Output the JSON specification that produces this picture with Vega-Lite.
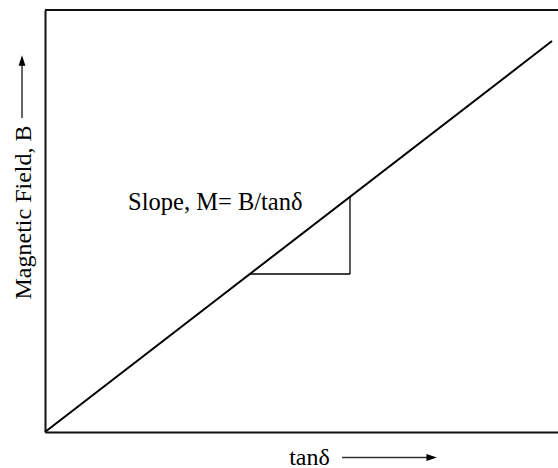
{
  "$schema": "https://vega.github.io/schema/vega-lite/v6.json",
  "autosize": "none",
  "padding": {"left": 45, "top": 10, "right": 0, "bottom": 36},
  "width": 513,
  "height": 422,
  "background": "white",
  "config": {
    "view": {"stroke": null},
    "font": "Liberation Serif",
    "axis": {
      "domain": true,
      "domainColor": "#111111",
      "domainWidth": 2,
      "ticks": false,
      "labels": false,
      "grid": false,
      "titleFont": "Liberation Serif",
      "titleFontSize": 24,
      "titleFontWeight": "normal",
      "titleColor": "#000000"
    }
  },
  "datasets": {
    "fit": [
      {"tan": 0, "B": 0},
      {"tan": 98.83, "B": 92.65}
    ],
    "frame": [
      {"top": 100}
    ],
    "triangle": [
      {"x": 39.94, "y": 37.44, "x2": 59.45, "y2": 37.44},
      {"x": 59.45, "y": 37.44, "x2": 59.45, "y2": 55.73}
    ],
    "arrows": [
      {"x": 57.9, "y": -6.04, "x2": 75.5, "y2": -6.04},
      {"x": -4.48, "y": 74.4, "x2": -4.48, "y2": 87.5}
    ],
    "heads": [
      {"x": 76.4, "y": -6.04, "dir": "right"},
      {"x": -4.48, "y": 89.3, "dir": "up"}
    ],
    "notes": [
      {"x": 16.2, "y": 52.6, "label": "Slope, M= B/tanδ"}
    ]
  },
  "layer": [
    {
      "data": {"name": "fit"},
      "mark": {"type": "line", "color": "#000000", "strokeWidth": 2},
      "encoding": {
        "x": {
          "field": "tan", "type": "quantitative",
          "scale": {"domain": [0, 100], "nice": false, "zero": false},
          "axis": {"orient": "bottom", "title": "tanδ", "titleX": 264, "titleY": 32, "titleAlign": "center", "titleBaseline": "alphabetic"}
        },
        "y": {
          "field": "B", "type": "quantitative",
          "scale": {"domain": [0, 100], "nice": false, "zero": false},
          "axis": {"orient": "left", "title": "Magnetic Field, B", "titleX": -15, "titleY": 202, "titleAngle": -90, "titleAlign": "center", "titleBaseline": "alphabetic"}
        }
      }
    },
    {
      "data": {"name": "frame"},
      "mark": {"type": "rule", "color": "#111111", "strokeWidth": 2},
      "encoding": {"y": {"field": "top", "type": "quantitative"}}
    },
    {
      "data": {"name": "triangle"},
      "mark": {"type": "rule", "color": "#000000", "strokeWidth": 1.3},
      "encoding": {
        "x": {"field": "x", "type": "quantitative"},
        "y": {"field": "y", "type": "quantitative"},
        "x2": {"field": "x2"},
        "y2": {"field": "y2"}
      }
    },
    {
      "data": {"name": "arrows"},
      "mark": {"type": "rule", "color": "#333333", "strokeWidth": 1.5},
      "encoding": {
        "x": {"field": "x", "type": "quantitative"},
        "y": {"field": "y", "type": "quantitative"},
        "x2": {"field": "x2"},
        "y2": {"field": "y2"}
      }
    },
    {
      "data": {"name": "heads"},
      "mark": {"type": "point", "filled": true, "color": "#000000", "size": 110, "opacity": 1},
      "encoding": {
        "x": {"field": "x", "type": "quantitative"},
        "y": {"field": "y", "type": "quantitative"},
        "shape": {
          "field": "dir", "type": "nominal", "legend": null,
          "scale": {"domain": ["right", "up"], "range": ["M-2,-0.65L0,0L-2,0.65Z", "M-0.65,2L0,0L0.65,2Z"]}
        }
      }
    },
    {
      "data": {"name": "notes"},
      "mark": {"type": "text", "align": "left", "baseline": "alphabetic", "font": "Liberation Serif", "fontSize": 24.5, "color": "#000000"},
      "encoding": {
        "x": {"field": "x", "type": "quantitative"},
        "y": {"field": "y", "type": "quantitative"},
        "text": {"field": "label"}
      }
    }
  ]
}
